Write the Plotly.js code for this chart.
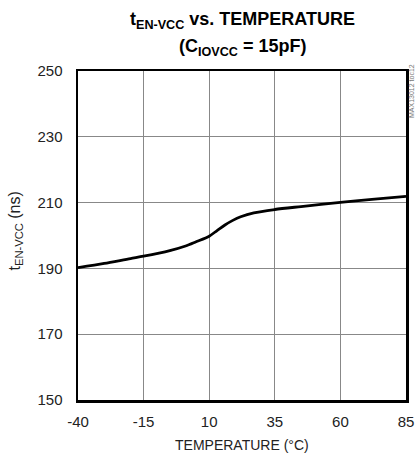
<!DOCTYPE html>
<html>
<head>
<meta charset="utf-8">
<script src="https://cdn.plot.ly/plotly-3.0.1.min.js"></script>
<style>html,body{margin:0;padding:0;background:#fff;}#chart{width:415px;height:461px;}</style>
</head>
<body>
<div id="chart"></div>
<script>
const temperature = [-40, -30, -20, -15, -5, 1, 5, 10, 13, 16, 19, 22, 27, 35, 45, 60, 72, 85];
const tEnVcc = [190.2, 191.5, 193.0, 193.7, 195.4, 196.8, 198.1, 199.8, 201.5, 203.2, 204.6, 205.7, 206.9, 207.9, 208.8, 210.1, 211.0, 211.9];
const xTicks = [-40, -15, 10, 35, 60, 85];
const yTicks = [150, 170, 190, 210, 230, 250];
const titleLine1 = '<b>t<sub>EN-VCC</sub> vs. TEMPERATURE</b>';
const titleLine2 = '<b>(C<sub>IOVCC</sub> = 15pF)</b>';
const xTitle = 'TEMPERATURE (°C)';
const yTitle = 't<sub>EN-VCC</sub> (ns)';
const codeLabel = 'MAX13012 toc12';

const font = "'Liberation Sans', Arial, sans-serif";

const trace = {
  x: temperature, y: tEnVcc, type: 'scatter', mode: 'lines',
  line: {color: '#000', width: 2.8, shape: 'spline', smoothing: 0.8},
  hoverinfo: 'skip'
};

const layout = {
  width: 415, height: 461,
  margin: {l: 78, r: 9, t: 71, b: 61},
  paper_bgcolor: '#fff', plot_bgcolor: '#fff',
  showlegend: false,
  font: {family: font, color: '#222', size: 15},
  xaxis: {
    range: [-40, 85], tickvals: xTicks, ticktext: xTicks.map(v => v < 0 ? '-' + Math.abs(v) : String(v)),
    showgrid: true, gridcolor: '#888', gridwidth: 1,
    showline: true, linecolor: '#000', linewidth: 2.5, mirror: true,
    ticks: '', zeroline: false, ticklabelstandoff: 6,
    tickfont: {family: font, size: 15, color: '#222'}
  },
  yaxis: {
    range: [150, 250], tickvals: yTicks,
    showgrid: true, gridcolor: '#888', gridwidth: 1,
    showline: true, linecolor: '#000', linewidth: 2.5, mirror: true,
    ticks: '', zeroline: false, ticklabelstandoff: 10,
    tickfont: {family: font, size: 15, color: '#222'}
  },
  annotations: [
    {text: titleLine1, xref: 'paper', yref: 'paper', x: 0.5, y: 1, yshift: 51, xanchor: 'center', yanchor: 'middle',
     showarrow: false, font: {family: font, size: 18, color: '#000'}},
    {text: titleLine2, xref: 'paper', yref: 'paper', x: 0.5, y: 1, yshift: 24, xanchor: 'center', yanchor: 'middle',
     showarrow: false, font: {family: font, size: 18, color: '#000'}},
    {text: xTitle, xref: 'paper', yref: 'paper', x: 0.5, y: 0, yshift: -45, xanchor: 'center', yanchor: 'middle',
     showarrow: false, font: {family: font, size: 14, color: '#222'}},
    {text: yTitle, xref: 'paper', yref: 'paper', x: 0, y: 0.5, xshift: -63, yshift: 4, xanchor: 'center', yanchor: 'middle',
     textangle: -90, showarrow: false, font: {family: font, size: 16, color: '#222'}},
    {text: codeLabel, xref: 'paper', yref: 'paper', x: 1, y: 1, xshift: 5, yshift: -20, xanchor: 'center', yanchor: 'middle',
     textangle: -90, showarrow: false, font: {family: font, size: 7, color: '#777'}}
  ]
};

Plotly.newPlot('chart', [trace], layout, {displayModeBar: false, staticPlot: true});
</script>
</body>
</html>
